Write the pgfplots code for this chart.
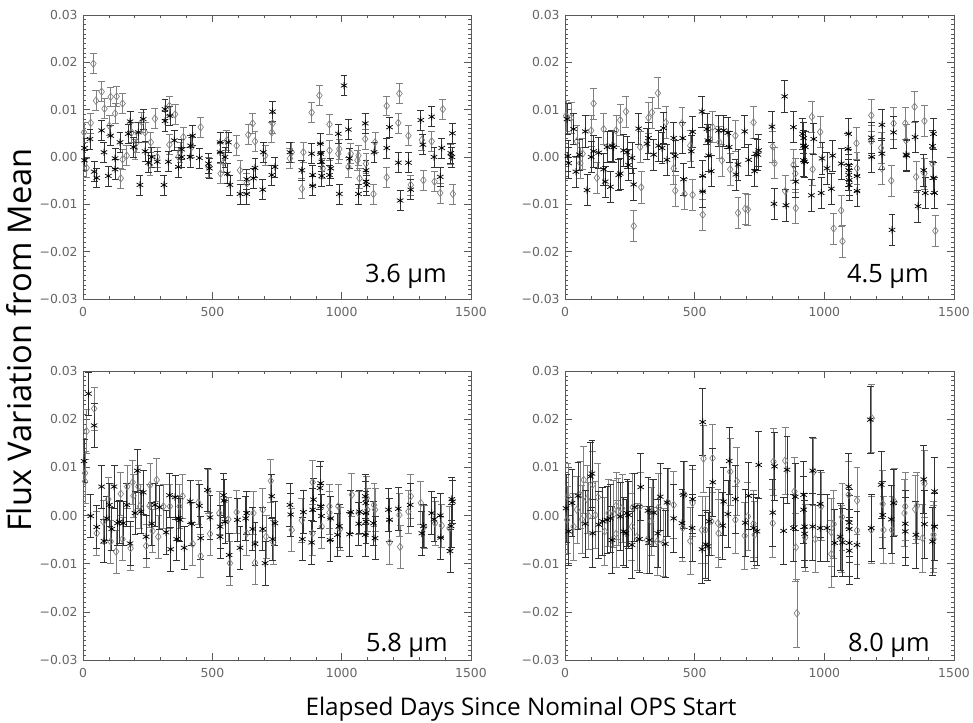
\documentclass[border=0pt]{standalone}
\usepackage{pgfplots}
\pgfplotsset{compat=1.18}
\usepackage{pgfplotstable}
\usepackage{fontspec}
\setmainfont{Open Sans}
\newfontfamily\tickfont{DejaVu Sans}

% ---- 3.6 um ----
\pgfplotstableread{
x y
6 0.0019
6 -0.0007
27 0.0038
43 -0.0031
53 -0.0044
72 0.0056
81 0.0010
98 -0.0040
107 0.0045
124 -0.0026
124 -0.0003
143 0.0031
175 0.0049
182 0.0075
195 0.0021
214 0.0052
220 -0.0059
233 0.0080
240 0.0012
253 -0.0012
266 0.0000
287 -0.0010
313 -0.0059
317 0.0076
317 0.0101
336 0.0087
330 -0.0010
353 0.0035
369 -0.0021
382 0.0016
382 0.0000
414 0.0000
416 0.0024
424 0.0045
450 -0.0002
485 -0.0014
489 -0.0024
530 0.0010
530 0.0031
549 0.0000
558 -0.0035
562 0.0031
568 -0.0059
607 -0.0078
633 -0.0047
633 -0.0078
659 -0.0045
665 -0.0023
695 -0.0069
697 0.0010
733 0.0096
730 -0.0038
742 -0.0021
800 0.0010
846 -0.0028
884 0.0007
888 -0.0061
888 -0.0038
917 0.0028
919 0.0007
923 -0.0010
923 -0.0040
953 -0.0038
958 -0.0024
987 0.0049
991 -0.0078
1009 0.0151
1026 0.0058
1030 -0.0003
1065 -0.0078
1091 0.0071
1094 -0.0028
1094 -0.0052
1097 -0.0059
1125 0.0010
1174 0.0019
1185 0.0063
1219 -0.0012
1226 -0.0092
1258 -0.0012
1267 -0.0069
1306 0.0078
1314 0.0026
1348 0.0085
1357 0.0000
1381 -0.0042
1387 0.0019
1422 0.0008
1426 0.0000
1428 0.0050
}\ia
\pgfplotstableread{
x y
4 0.0052
14 -0.0023
30 0.0072
40 0.0197
50 0.0119
72 0.0138
83 0.0102
102 0.0066
107 0.0127
124 0.0092
130 0.0128
146 -0.0045
153 -0.0005
153 0.0113
169 0.0003
188 0.0052
201 0.0017
208 0.0031
227 0.0074
240 0.0052
259 -0.0017
262 0.0031
278 0.0081
287 0.0000
334 0.0108
356 0.0090
334 0.0026
369 0.0000
375 0.0010
388 0.0042
420 0.0021
455 0.0063
485 -0.0021
532 -0.0035
543 -0.0012
556 0.0035
594 0.0024
607 -0.0028
633 -0.0056
639 0.0047
656 0.0071
665 0.0033
704 0.0003
730 0.0052
733 0.0071
800 -0.0003
807 0.0010
846 -0.0067
852 0.0010
884 0.0094
914 0.0130
927 -0.0024
953 0.0069
953 0.0014
987 0.0007
991 0.0017
1026 -0.0021
1035 0.0007
1061 -0.0007
1065 0.0003
1069 -0.0045
1091 0.0038
1094 -0.0014
1123 -0.0078
1129 0.0031
1174 0.0108
1174 -0.0043
1219 0.0072
1223 0.0134
1258 0.0045
1267 -0.0059
1310 0.0036
1316 -0.0049
1348 0.0033
1359 -0.0052
1381 -0.0076
1391 0.0101
1422 0.0005
1430 -0.0078
}\id

% ---- 4.5 um ----
\pgfplotstableread{
x y
8 0.0080
11 0.0002
14 -0.0013
33 0.0059
42 -0.0031
55 0.0005
78 0.0054
85 -0.0070
101 0.0000
110 0.0012
130 0.0009
149 -0.0026
155 -0.0052
162 0.0021
175 -0.0063
181 0.0024
188 0.0021
207 -0.0038
213 -0.0035
226 0.0014
239 0.0010
245 -0.0017
258 -0.0002
265 -0.0058
284 0.0060
316 0.0028
322 0.0040
342 0.0005
361 0.0024
374 0.0019
380 0.0061
393 -0.0006
419 0.0040
425 0.0002
454 0.0040
457 -0.0047
487 0.0012
492 0.0053
528 0.0096
531 -0.0040
531 -0.0073
547 0.0059
551 0.0035
554 0.0003
564 -0.0030
592 0.0056
612 0.0056
628 0.0051
633 0.0021
659 -0.0037
667 -0.0016
693 0.0054
708 -0.0006
731 -0.0030
736 0.0007
744 0.0005
747 0.0014
798 0.0064
806 -0.0099
847 0.0128
852 -0.0102
881 0.0063
890 -0.0052
916 0.0049
920 0.0040
920 0.0024
920 -0.0007
924 -0.0010
927 0.0021
950 -0.0081
959 0.0038
988 -0.0076
991 -0.0003
1010 -0.0024
1027 -0.0067
1032 0.0003
1065 -0.0014
1091 0.0017
1094 0.0049
1094 -0.0017
1094 -0.0028
1094 -0.0038
1096 -0.0049
1096 -0.0059
1126 -0.0040
1126 -0.0072
1181 0.0041
1183 0.0000
1222 0.0068
1222 0.0007
1261 -0.0154
1267 0.0052
1315 0.0005
1318 0.0003
1350 0.0042
1361 -0.0104
1383 -0.0028
1389 -0.0076
1417 0.0023
1421 0.0049
1421 -0.0044
1425 -0.0076
}\iia
\pgfplotstableread{
x y
4 0.0087
24 0.0083
46 0.0033
59 -0.0013
68 0.0007
101 0.0056
110 0.0113
123 -0.0044
149 0.0059
197 0.0056
213 0.0078
235 0.0096
265 -0.0146
290 0.0021
294 -0.0064
322 0.0083
335 0.0094
358 0.0135
389 0.0073
419 -0.0024
425 -0.0071
451 0.0071
461 -0.0078
483 0.0024
492 -0.0080
531 -0.0122
560 0.0037
569 0.0063
595 0.0031
605 -0.0007
637 -0.0026
657 0.0045
667 -0.0118
695 -0.0109
705 -0.0111
727 0.0073
801 0.0022
808 -0.0013
849 -0.0072
881 -0.0017
888 -0.0035
890 -0.0108
952 0.0085
955 -0.0026
984 0.0053
1036 -0.0151
1065 -0.0113
1070 -0.0178
1124 0.0029
1126 -0.0024
1181 0.0088
1181 0.0033
1219 0.0019
1222 -0.0024
1258 -0.0050
1267 0.0071
1312 0.0071
1315 0.0035
1348 0.0106
1354 -0.0042
1386 0.0076
1386 -0.0035
1417 -0.0014
1428 -0.0156
}\iid

% ---- 5.8 um ----
\pgfplotstableread{
x y
4 0.0113
21 0.0253
30 -0.0001
43 0.0187
53 -0.0024
72 0.0060
81 -0.0053
92 -0.0006
102 0.0022
111 -0.0028
120 0.0060
133 -0.0016
140 -0.0013
156 -0.0016
169 0.0022
182 -0.0058
201 0.0005
210 0.0093
224 0.0008
233 0.0048
244 -0.0044
266 -0.0017
278 0.0022
295 0.0017
321 -0.0035
334 0.0042
339 -0.0070
356 0.0038
362 -0.0049
369 -0.0006
375 -0.0009
391 -0.0067
414 0.0029
420 -0.0017
450 0.0020
455 -0.0047
481 0.0053
491 -0.0004
530 -0.0023
530 -0.0044
543 0.0042
545 0.0031
549 -0.0013
565 -0.0082
597 -0.0009
607 -0.0067
629 -0.0006
633 0.0005
656 -0.0028
665 -0.0059
695 -0.0028
704 -0.0099
730 0.0040
733 -0.0049
742 -0.0016
800 0.0022
803 0.0002
848 -0.0049
852 0.0007
884 -0.0056
888 0.0012
891 0.0033
916 0.0057
919 0.0067
919 0.0019
922 -0.0001
955 -0.0051
958 -0.0006
984 -0.0040
991 -0.0022
1030 -0.0039
1035 0.0007
1066 -0.0017
1069 0.0008
1091 -0.0040
1091 0.0040
1093 0.0026
1094 0.0005
1094 -0.0013
1123 -0.0016
1129 -0.0047
1181 0.0012
1185 -0.0009
1219 0.0014
1265 0.0022
1310 -0.0037
1316 -0.0022
1348 0.0005
1357 -0.0008
1381 0.0000
1383 -0.0046
1419 -0.0074
1423 -0.0022
1426 0.0034
1429 0.0029
}\iiia
\pgfplotstableread{
x y
8 0.0088
8 0.0071
14 0.0175
43 0.0222
53 -0.0037
79 -0.0013
98 0.0034
107 -0.0054
128 -0.0075
146 0.0045
153 -0.0049
171 0.0060
184 -0.0068
192 0.0069
195 0.0041
214 0.0060
220 0.0019
244 -0.0063
257 0.0020
259 0.0063
269 -0.0032
285 0.0074
291 -0.0044
311 0.0019
336 0.0019
373 0.0019
385 0.0040
424 -0.0059
446 0.0027
455 -0.0084
485 0.0050
491 -0.0038
527 0.0005
562 -0.0008
568 -0.0099
594 0.0007
633 -0.0037
659 0.0005
665 -0.0098
695 0.0012
708 -0.0044
726 0.0072
736 -0.0056
807 -0.0030
846 -0.0010
887 -0.0037
888 0.0069
923 -0.0023
953 0.0019
953 0.0006
987 0.0019
994 -0.0028
1039 0.0043
1065 0.0005
1097 0.0036
1099 0.0012
1125 0.0022
1129 0.0012
1185 -0.0056
1223 0.0001
1226 -0.0065
1258 0.0008
1267 0.0040
1306 0.0026
1319 -0.0023
1361 -0.0016
1387 -0.0021
1417 -0.0026
}\iiid

% ---- 8.0 um ----
\pgfplotstableread{
x y
4 0.0015
14 -0.0033
27 0.0026
50 0.0041
78 -0.0017
98 0.0081
104 0.0087
107 -0.0037
130 -0.0019
145 -0.0012
162 -0.0009
175 -0.0006
181 -0.0051
213 -0.0002
226 -0.0033
235 -0.0037
239 0.0005
245 0.0001
258 -0.0061
269 0.0017
287 -0.0049
292 0.0059
320 0.0010
325 -0.0051
342 0.0006
358 -0.0037
367 0.0039
387 -0.0059
393 0.0027
419 -0.0006
451 -0.0016
457 0.0043
490 -0.0026
492 0.0034
528 -0.0070
531 0.0194
543 -0.0060
551 -0.0064
556 -0.0012
570 0.0069
608 -0.0021
612 0.0029
628 0.0003
633 0.0113
657 0.0034
695 -0.0015
708 0.0041
727 -0.0026
740 -0.0033
747 0.0105
801 0.0006
808 0.0102
843 -0.0032
856 0.0095
881 -0.0026
888 0.0039
920 0.0043
920 0.0012
924 -0.0023
924 -0.0038
955 -0.0023
955 0.0093
984 0.0024
984 -0.0026
1010 -0.0026
1040 -0.0057
1061 -0.0044
1070 -0.0056
1094 0.0060
1096 -0.0015
1096 -0.0028
1096 -0.0057
1096 -0.0073
1126 -0.0061
1177 0.0199
1181 -0.0026
1219 0.0064
1225 0.0001
1258 -0.0008
1267 0.0026
1312 -0.0017
1312 -0.0033
1353 -0.0040
1383 0.0075
1386 -0.0018
1417 -0.0054
1425 0.0050
1425 -0.0023
}\iva
\pgfplotstableread{
x y
8 -0.0009
11 0.0039
33 -0.0023
46 0.0012
59 0.0043
65 -0.0008
72 0.0074
85 0.0034
91 -0.0001
107 0.0064
117 0.0001
127 0.0038
153 -0.0033
168 0.0005
188 0.0003
197 0.0020
197 -0.0038
204 0.0008
220 0.0015
258 -0.0023
261 0.0017
278 -0.0044
290 0.0019
316 -0.0051
333 -0.0012
338 0.0006
355 -0.0054
361 0.0017
380 -0.0056
397 0.0027
419 0.0022
454 -0.0026
461 0.0043
483 -0.0053
492 0.0026
528 -0.0030
534 0.0118
541 -0.0030
564 -0.0012
569 0.0119
590 -0.0016
592 -0.0037
637 0.0091
657 -0.0009
663 0.0071
693 -0.0042
705 -0.0002
727 -0.0017
731 -0.0040
801 -0.0016
804 0.0112
849 0.0114
885 0.0050
890 -0.0066
894 -0.0203
926 -0.0046
959 0.0091
965 -0.0049
988 0.0019
1027 -0.0035
1027 -0.0080
1036 -0.0018
1065 -0.0049
1068 -0.0003
1094 0.0043
1126 0.0031
1126 -0.0031
1183 0.0202
1181 -0.0030
1225 0.0024
1228 -0.0030
1261 -0.0030
1271 0.0028
1309 0.0005
1312 0.0019
1350 0.0013
1357 0.0020
1379 -0.0047
1386 0.0066
1421 -0.0040
1421 -0.0049
}\ivd

\colorlet{axgray}{black!65}
\colorlet{dgray}{black!50}

\pgfplotsset{
  panel/.style={
    scale only axis, anchor=south west,
    xmin=0, xmax=1500, ymin=-0.03, ymax=0.03,
    scaled y ticks=false, scaled x ticks=false,
    xtick={0,500,1000,1500}, xticklabels={0,500,1000,1500},
    ytick={-0.03,-0.02,-0.01,0,0.01,0.02,0.03},
    yticklabels={−0.03,−0.02,−0.01,0.00,0.01,0.02,0.03},
    minor x tick num=4, minor y tick num=9,
    tick pos=both, xticklabel pos=lower, yticklabel pos=left,
    major tick length=5.5pt, minor tick length=2.6pt,
    axis line style={axgray, line width=0.5pt},
    every tick/.style={axgray, line width=0.4pt},
    tick label style={font=\tickfont\fontsize{9.3}{10}\selectfont, text=black!60},
    yticklabel style={xshift=-0.5pt},
    xticklabel style={yshift=-3pt},
  },
  ast/.style={only marks, mark=asterisk, mark size=2.8pt, black,
    mark options={line width=0.55pt},
    error bars/.cd, y dir=both, y fixed=#1,
    error bar style={black!80, line width=0.5pt},
    error mark=-,
    error mark options={rotate=90, black!80, mark size=2.6pt, line width=0.5pt}},
  dia/.style={only marks, mark=diamond, mark size=2.8pt, dgray,
    mark options={line width=0.5pt, fill=none},
    error bars/.cd, y dir=both, y fixed=#1,
    error bar style={dgray, line width=0.5pt},
    error mark=-,
    error mark options={rotate=90, dgray, mark size=2.6pt, line width=0.5pt}},
}

\begin{document}
\begin{tikzpicture}[x=0.75pt, y=0.75pt]
\path[use as bounding box] (0,0) rectangle (973,723);

\begin{axis}[panel, at={(62.25pt,318pt)}, width=291pt, height=213pt]
  \addplot[dia=0.0021] table {\id};
  \addplot[ast=0.0021] table {\ia};
\end{axis}

\begin{axis}[panel, at={(423.75pt,318pt)}, width=291.75pt, height=213pt]
  \addplot[dia=0.0033] table {\iid};
  \addplot[ast=0.0033] table {\iia};
\end{axis}

\begin{axis}[panel, at={(62.25pt,47.25pt)}, width=291pt, height=216.75pt]
  \addplot[dia=0.0045] table {\iiid};
  \addplot[ast=0.0045] table {\iiia};
\end{axis}

\begin{axis}[panel, at={(423.75pt,47.25pt)}, width=291.75pt, height=216.75pt]
  \addplot[dia=0.007] table {\ivd};
  \addplot[ast=0.007] table {\iva};
\end{axis}

\begin{scope}[every node/.style={inner sep=0pt, font=\fontsize{19}{22}\selectfont}]
  \node[anchor=base east] at (447,440) {3.6 μm};
  \node[anchor=base east] at (929,440) {4.5 μm};
  \node[anchor=base east] at (448,71) {5.8 μm};
  \node[anchor=base east] at (930,71) {8.0 μm};
  \node[anchor=base, rotate=90, font=\fontsize{24.5}{28}\selectfont] at (32,383) {Flux Variation from Mean};
  \node[anchor=base, font=\fontsize{18.2}{22}\selectfont] at (521,7) {Elapsed Days Since Nominal OPS Start};
\end{scope}
\end{tikzpicture}
\end{document}
